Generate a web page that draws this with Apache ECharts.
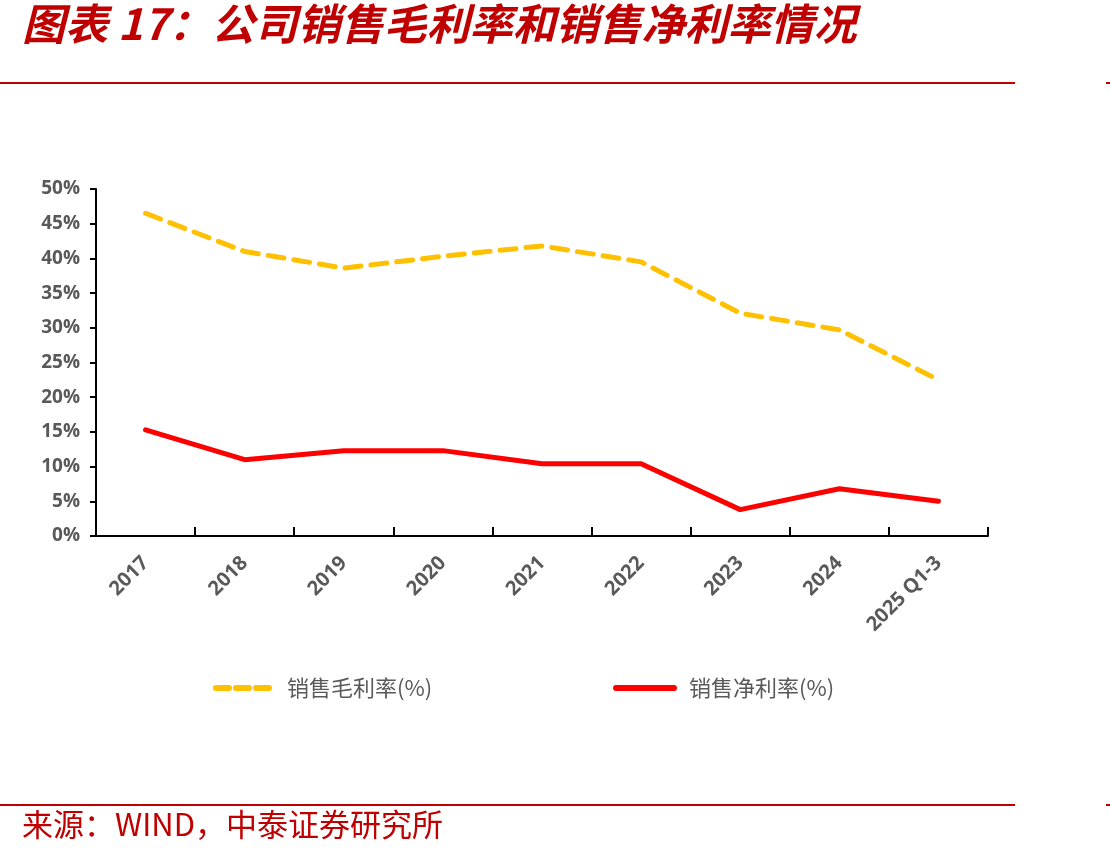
<!DOCTYPE html>
<html>
<head>
<meta charset="utf-8">
<title>公司销售毛利率和销售净利率情况</title>
<script src="https://cdn.jsdelivr.net/npm/echarts@6/dist/echarts.min.js"></script>
<style>
    html, body { margin: 0; padding: 0; background: #fff; }
    #main { width: 1110px; height: 859px; }
</style>
</head>
<body>
<!-- 图表容器 -->
<div id="main"></div>
<script>
// 横轴类目
const years = ['2017', '2018', '2019', '2020', '2021', '2022', '2023', '2024', '2025 Q1-3']
// 销售毛利率(%)
const grossMargin = [46.5, 41.0, 38.6, 40.3, 41.8, 39.5, 32.1, 29.7, 22.5]
// 销售净利率(%)
const netMargin = [15.3, 11.0, 12.3, 12.3, 10.4, 10.4, 3.8, 6.8, 5.0]
// 纵轴刻度
const yMin = 0
const yMax = 50
const yStep = 5

const nameGross = '销售毛利率(%)'
const nameNet = '销售净利率(%)'

var myChart = echarts.init(document.getElementById('main'))
var option

const red = '#C00000'
const axisText = '#595959'

option = {
    backgroundColor: '#fff',
    animation: false,
    textStyle: { fontFamily: '"Noto Sans CJK SC", "Open Sans", sans-serif' },
    graphic: [
        // 标题
        {
            type: 'text', left: 22, top: 2,
            style: {
                text: '图表 17：公司销售毛利率和销售净利率情况',
                fill: red,
                font: 'italic bold 43px "Noto Sans CJK SC"'
            }
        },
        // 上下两条红线
        { type: 'rect', left: 0, top: 82, shape: { width: 1015, height: 2 }, style: { fill: red } },
        { type: 'rect', left: 1106, top: 82, shape: { width: 4, height: 2 }, style: { fill: red } },
        { type: 'rect', left: 0, top: 804, shape: { width: 1015, height: 2 }, style: { fill: red } },
        { type: 'rect', left: 1106, top: 804, shape: { width: 4, height: 2 }, style: { fill: red } },
        // 来源
        {
            type: 'text', left: 22, top: 809,
            style: {
                text: '来源：WIND，中泰证券研究所',
                fill: red,
                font: '31px "Noto Sans CJK SC"'
            }
        }
    ],
    legend: [
        {
            data: [nameGross], left: 208, top: 672,
            itemWidth: 54, itemHeight: 14, itemGap: 10,
            itemStyle: { opacity: 0 },
            lineStyle: { width: 6, type: [13, 7] },
            textStyle: { color: axisText, fontSize: 22, padding: [0, 0, 0, 12] }
        },
        {
            data: [nameNet], left: 608, top: 672,
            itemWidth: 58, itemHeight: 14, itemGap: 10,
            itemStyle: { opacity: 0 },
            lineStyle: { width: 6 },
            textStyle: { color: axisText, fontSize: 22, padding: [0, 0, 0, 10] }
        }
    ],
    grid: { left: 96, right: 122, top: 189, bottom: 323, containLabel: false },
    xAxis: {
        type: 'category',
        data: years,
        boundaryGap: true,
        axisLine: { lineStyle: { color: '#000', width: 2 } },
        axisTick: { show: true, inside: true, length: 9, alignWithLabel: false, lineStyle: { color: '#000', width: 2 } },
        axisLabel: {
            rotate: 45, interval: 0, margin: 24,
            color: axisText, fontSize: 20, fontWeight: 'bold',
            fontFamily: '"Open Sans", sans-serif'
        }
    },
    yAxis: {
        type: 'value',
        min: yMin, max: yMax, interval: yStep,
        axisLine: { show: true, lineStyle: { color: '#000', width: 2 } },
        axisTick: { show: true, length: 6, lineStyle: { color: '#000', width: 2 } },
        splitLine: { show: false },
        axisLabel: {
            formatter: '{value}%', margin: 16,
            color: axisText, fontSize: 19, fontWeight: 'bold',
            fontFamily: '"Open Sans", sans-serif'
        }
    },
    series: [
        {
            name: nameGross,
            type: 'line',
            data: grossMargin,
            symbol: 'none',
            itemStyle: { color: '#FFC000' },
            lineStyle: { color: '#FFC000', width: 5, type: [16, 10], cap: 'round' }
        },
        {
            name: nameNet,
            type: 'line',
            data: netMargin,
            symbol: 'none',
            itemStyle: { color: '#FF0000' },
            lineStyle: { color: '#FF0000', width: 5, cap: 'round' }
        }
    ]
}

option && myChart.setOption(option)
</script>
</body>
</html>
